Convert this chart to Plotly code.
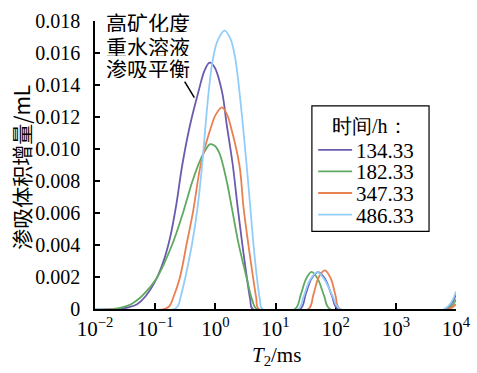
import plotly.graph_objects as go

# ---- data (T2 in ms, increment in mL) ----
series_names = ["134.33", "182.33", "347.33", "486.33"]

t2_134 = [0.01, 0.0251, 0.0355, 0.0501, 0.0692, 0.107, 0.141, 0.178, 0.224, 0.282, 0.380, 0.525,
          0.661, 0.802, 0.977, 1.288, 1.549, 1.950, 2.344, 2.818, 3.388, 3.80, 4.17,
          25.7, 31.6, 39.8, 51.3, 66.1, 87.1, 109.6, 6607, 10000]
v_134 = [0, 0, 0.0001, 0.0003, 0.0008, 0.00195, 0.0031, 0.0045, 0.0065, 0.0090, 0.0115, 0.0136,
         0.0149, 0.0154, 0.0151, 0.0136, 0.0115, 0.0090, 0.0064, 0.0040, 0.0018, 0.0006, 0,
         0, 0.0009, 0.0019, 0.0023, 0.0019, 0.0008, 0, 0, 0.0009]

t2_182 = [0.01, 0.01995, 0.0282, 0.0398, 0.0562, 0.0794, 0.107, 0.1905, 0.295, 0.417, 0.562, 0.676,
          0.822, 0.977, 1.148, 1.318, 1.585, 1.884, 2.427, 3.311, 4.074, 4.898,
          21.1, 26.3, 32.4, 39.8, 50.1, 64.6, 80.4, 7244, 10000]
v_182 = [0, 0, 0.0001, 0.0003, 0.0007, 0.0013, 0.00195, 0.0040, 0.0061, 0.0080, 0.0093, 0.0099,
         0.0103, 0.0102, 0.0098, 0.0091, 0.0078, 0.0063, 0.0041, 0.00195, 0.0006, 0,
         0, 0.0009, 0.0019, 0.00232, 0.0019, 0.0008, 0, 0, 0.0006]

t2_347 = [0.01, 0.141, 0.174, 0.1995, 0.257, 0.331, 0.427, 0.562, 0.708, 0.871, 1.0, 1.288,
          1.585, 1.778, 2.512, 2.951, 3.548, 4.266, 4.786, 5.248,
          35.1, 42.7, 52.5, 66.1, 83.2, 100, 117.5, 7586, 10000]
v_347 = [0, 0, 0.0002, 0.0007, 0.00195, 0.0040, 0.0061, 0.0089, 0.0104, 0.0115, 0.0121, 0.0126,
         0.0121, 0.0115, 0.0090, 0.0063, 0.0040, 0.0019, 0.0007, 0,
         0, 0.0009, 0.0020, 0.00242, 0.0019, 0.0008, 0, 0, 0.0003]

t2_486 = [0.01, 0.209, 0.240, 0.263, 0.316, 0.407, 0.501, 0.603, 0.684, 0.776, 0.891, 1.072, 1.422,
          1.778, 2.138, 2.512, 2.884, 3.311, 3.802, 4.266, 4.898, 5.495, 6.026,
          24.0, 29.5, 37.2, 49.5, 66.1, 89.1, 117.5, 6457, 10000]
v_486 = [0, 0, 0.0002, 0.0007, 0.00195, 0.0040, 0.0062, 0.0090, 0.0114, 0.0136, 0.0154, 0.0167, 0.0174,
         0.0169, 0.0157, 0.0136, 0.0114, 0.0090, 0.0064, 0.0042, 0.0020, 0.0006, 0,
         0, 0.0008, 0.0018, 0.0023, 0.0018, 0.0008, 0, 0, 0.0011]

x_tickvals = [0.01, 0.1, 1, 10, 100, 1000, 10000]
x_ticktext = ["10<sup>\u22122</sup>", "10<sup>\u22121</sup>", "10<sup>0</sup>", "10<sup>1</sup>",
              "10<sup>2</sup>", "10<sup>3</sup>", "10<sup>4</sup>"]
y_tickvals = [0, 0.002, 0.004, 0.006, 0.008, 0.010, 0.012, 0.014, 0.016, 0.018]
y_ticktext = ["0", "0.002", "0.004", "0.006", "0.008", "0.010", "0.012", "0.014", "0.016", "0.018"]

x_title = "<i>T</i><sub>2</sub>/ms"
y_title = "渗吸体积增量/mL"
legend_title = "时间/h："
note_lines = ["高矿化度", "重水溶液", "渗吸平衡"]

colors = ["#6B5BAE", "#5FAA60", "#E9804F", "#92CDFA"]
SERIF = "Liberation Serif"
CJK = "Noto Sans CJK SC"

# page-pixel helpers (plot area: x 94.5..456, y 21..309.5 in the 477x373 page)
PX0, PX1, PY0, PY1 = 94.5, 456.0, 21.0, 309.5
def px(x):
    return (x - PX0) / (PX1 - PX0)
def py(y):
    return (PY1 - y) / (PY1 - PY0)

fig = go.Figure()
for name, xs, ys, c in zip(series_names, [t2_134, t2_182, t2_347, t2_486],
                           [v_134, v_182, v_347, v_486], colors):
    fig.add_trace(go.Scatter(x=xs, y=ys, name=name, mode="lines", showlegend=False,
                             line=dict(color=c, width=1.8, shape="spline", smoothing=1.0)))

fig.update_layout(
    width=477, height=373,
    margin=dict(l=94.5, r=21, t=21, b=63.5, pad=0, autoexpand=False),
    paper_bgcolor="white", plot_bgcolor="white",
    font=dict(family=SERIF, size=20, color="black"),
    showlegend=False,
    xaxis=dict(type="log", range=[-2, 4], tickmode="array", tickvals=x_tickvals, ticktext=x_ticktext,
               ticks="inside", ticklen=6, tickwidth=1.5, tickcolor="black", automargin=False,
               showline=True, linecolor="black", linewidth=1.5, showgrid=False, zeroline=False,
               layer="below traces", tickfont=dict(family=SERIF, size=21)),
    yaxis=dict(range=[0, 0.018], tickmode="array", tickvals=y_tickvals, ticktext=y_ticktext,
               ticks="inside", ticklen=5, tickwidth=1.5, tickcolor="black", automargin=False,
               showline=True, linecolor="black", linewidth=1.5, showgrid=False, zeroline=False,
               layer="below traces", ticklabelstandoff=9, tickfont=dict(family=SERIF, size=20)),
)

# axis titles
fig.add_annotation(text=x_title, xref="paper", yref="paper", x=px(276), y=py(357),
                   xanchor="center", yanchor="middle", showarrow=False,
                   font=dict(family=SERIF, size=21, color="black"))
fig.add_annotation(text=y_title, xref="paper", yref="paper", x=px(21), y=py(167.5),
                   xanchor="center", yanchor="middle", showarrow=False, textangle=-90,
                   font=dict(family=CJK, size=21, color="black"))

# annotation text
for t, yy in zip(note_lines, [21.7, 45.3, 68.0]):
    fig.add_annotation(text=t, xref="paper", yref="paper", x=px(104.5), y=py(yy), xanchor="left",
                       yanchor="middle", showarrow=False, height=21, borderpad=0,
                       font=dict(family=CJK, size=21, color="black"))
fig.add_shape(type="line", xref="paper", yref="paper",
              x0=px(184.3), y0=py(81.7), x1=px(194.0), y1=py(97.7),
              line=dict(color="black", width=1.5))

# legend box
fig.add_shape(type="rect", xref="paper", yref="paper",
              x0=px(311.7), x1=px(429.0), y0=py(231.7), y1=py(106.0),
              line=dict(color="black", width=1.2), fillcolor="white", layer="above")
fig.add_annotation(text=legend_title, xref="paper", yref="paper", x=px(369.5), y=py(125.5),
                   xanchor="center", yanchor="middle", showarrow=False, height=21, borderpad=0,
                   font=dict(family=SERIF, size=20, color="black"))
for name, c, yy in zip(series_names, colors, [150.0, 171.7, 193.3, 215.0]):
    fig.add_shape(type="line", xref="paper", yref="paper", x0=px(318), x1=px(352), y0=py(yy), y1=py(yy),
                  line=dict(color=c, width=1.8), layer="above")
    fig.add_annotation(text=name, xref="paper", yref="paper", x=px(355), y=py(yy + 0.5),
                       xanchor="left", yanchor="middle", showarrow=False, height=21, borderpad=0,
                       font=dict(family=SERIF, size=21, color="black"))

fig.write_html("out.html", config={"displayModeBar": False},
               post_script="document.body.style.margin='0px';document.body.style.overflow='hidden';")
